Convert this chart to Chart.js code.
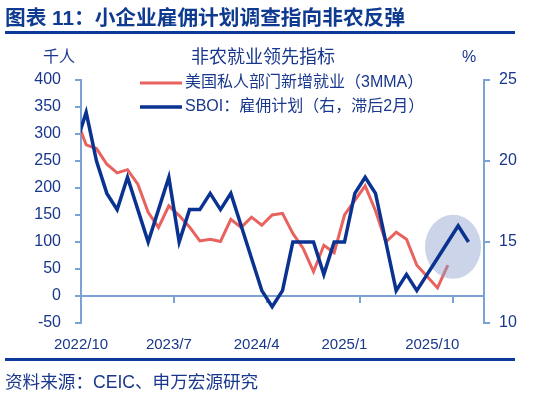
<!DOCTYPE html>
<html lang="zh-CN">
<head>
  <meta charset="UTF-8">
  <title>小企业雇佣计划调查指向非农反弹</title>
  <style>
    body {
      margin: 0;
      background: #fff;
      font-family: "Liberation Sans", "Noto Sans CJK SC", sans-serif;
      color: #19378c;
    }
    #wrap {
      position: relative;
      width: 554px;
      height: 395px;
      overflow: hidden;
    }
    #chart {
      position: absolute;
      left: 0;
      top: 0;
    }
    .txt {
      position: absolute;
      white-space: nowrap;
    }
    #title {
      left: 5px;
      top: 6px;
      font-size: 20.7px;
      line-height: 24px;
      font-weight: bold;
      color: #0e3a8f;
    }
    .rule {
      position: absolute;
      left: 5px;
      width: 510px;
      height: 3px;
      background: #0b3a9a;
    }
    #chartTitle {
      left: 263px;
      top: 46px;
      transform: translateX(-50%);
      font-size: 18px;
      line-height: 22px;
    }
    #leftUnit, #rightUnit {
      top: 47px;
      font-size: 16px;
      line-height: 20px;
      transform: translateX(-50%);
    }
    #leftUnit { left: 59px; }
    #rightUnit { left: 469px; }
    #source {
      left: 5px;
      top: 372px;
      font-size: 17.6px;
      line-height: 21px;
    }
  </style>
</head>
<body>
  <div id="wrap">
    <canvas id="chart" width="554" height="395"></canvas>
    <div class="txt" id="title">图表 11：小企业雇佣计划调查指向非农反弹</div>
    <div class="rule" style="top:31px"></div>
    <div class="txt" id="chartTitle">非农就业领先指标</div>
    <div class="txt" id="leftUnit">千人</div>
    <div class="txt" id="rightUnit">%</div>
    <div class="rule" style="top:358px"></div>
    <div class="txt" id="source">资料来源：CEIC、申万宏源研究</div>
  </div>

  <script src="https://cdn.jsdelivr.net/npm/chart.js"></script>
  <script>
    // months shown on the x axis (2022/9 sits just left of the axis and is clipped)
    const months = [
      '2022/9', '2022/10', '2022/11', '2022/12',
      '2023/1', '2023/2', '2023/3', '2023/4', '2023/5', '2023/6',
      '2023/7', '2023/8', '2023/9', '2023/10', '2023/11', '2023/12',
      '2024/1', '2024/2', '2024/3', '2024/4', '2024/5', '2024/6',
      '2024/7', '2024/8', '2024/9', '2024/10', '2024/11', '2024/12',
      '2025/1', '2025/2', '2025/3', '2025/4', '2025/5', '2025/6',
      '2025/7', '2025/8', '2025/9', '2025/10', '2025/11'
    ];

    // 美国私人部门新增就业 3MMA, 千人 (2022/9 - 2025/9)
    const privateJobs = [
      330, 280, 273, 244, 228, 234, 207, 155, 127, 167, 149, 128,
      102, 105, 101, 142, 127, 146, 131, 150, 153, 116, 88, 45,
      94, 80, 150, 177, 204, 158, 100, 118, 105, 57, 36, 15, 57
    ];

    // SBOI 雇佣计划, %, lagged 2 months (2022/9 - 2025/11)
    const sboiHiring = [
      21, 23, 20, 18, 17, 19, 17, 15, 17, 19, 15, 17, 17,
      18, 17, 18, 16, 14, 12, 11, 12, 15, 15, 15, 13, 15,
      15, 18, 19, 18, 15, 12, 13, 12, 13, 14, 15, 16, 15
    ];

    const tickLabels = ['2022/10', '2023/7', '2024/4', '2025/1', '2025/10'];

    const navy = '#19378c';
    const axisColor = '#7ba2d4';
    const family = '"Liberation Sans", "Noto Sans CJK SC", sans-serif';

    // each month is one unit wide, point sits in the middle of its month
    function toPoints(values) {
      return values.map((v, i) => ({ x: i - 0.5, y: v }));
    }
    const tickPositions = tickLabels.map(l => months.indexOf(l) - 1);

    // custom legend inside the plot, like the original
    const legendBox = {
      id: 'legendBox',
      afterDraw(chart) {
        const ctx = chart.ctx;
        chart.data.datasets.forEach((ds, i) => {
          const y = 83 + i * 24;
          ctx.save();
          ctx.strokeStyle = ds.borderColor;
          ctx.lineWidth = ds.borderWidth;
          ctx.beginPath();
          ctx.moveTo(140, y);
          ctx.lineTo(182, y);
          ctx.stroke();
          ctx.fillStyle = navy;
          ctx.font = '16px ' + family;
          ctx.textBaseline = 'middle';
          ctx.fillText(ds.label, 185, y);
          ctx.restore();
        });
      }
    };

    // shaded ellipse over the latest readings, drawn above red and below blue
    const highlight = {
      id: 'highlight',
      afterDatasetDraw(chart, args) {
        if (args.index !== 0) return;
        const ctx = chart.ctx;
        const cx = chart.scales.x.getPixelForValue(36);
        const cy = chart.scales.y1.getPixelForValue(14.7);
        ctx.save();
        ctx.fillStyle = 'rgba(140, 160, 205, 0.45)';
        ctx.beginPath();
        ctx.ellipse(cx, cy, 28, 32, 0, 0, Math.PI * 2);
        ctx.fill();
        ctx.restore();
      }
    };

    new Chart(document.getElementById('chart'), {
      type: 'line',
      data: {
        datasets: [
          {
            label: '美国私人部门新增就业（3MMA）',
            data: toPoints(privateJobs),
            xAxisID: 'x',
            yAxisID: 'y',
            borderColor: '#e8625e',
            borderWidth: 3,
            order: 1
          },
          {
            label: 'SBOI：雇佣计划（右，滞后2月）',
            data: toPoints(sboiHiring),
            xAxisID: 'x',
            yAxisID: 'y1',
            borderColor: '#0a3291',
            borderWidth: 3.5,
            order: 0
          }
        ]
      },
      options: {
        responsive: false,
        animation: false,
        clip: 0,
        layout: { padding: { top: 80, left: 0, right: 0, bottom: 0 } },
        elements: {
          point: { radius: 0 },
          line: { tension: 0, fill: false }
        },
        plugins: {
          legend: { display: false },
          tooltip: { enabled: false }
        },
        scales: {
          x: {
            type: 'linear',
            axis: 'x',
            position: { y: 0 },
            min: 0,
            max: 39,
            afterBuildTicks: s => { s.ticks = tickPositions.map(v => ({ value: v })); },
            ticks: { display: false },
            grid: { drawOnChartArea: false, drawTicks: true, tickLength: 6, color: axisColor, lineWidth: 2 },
            border: { display: true, color: axisColor, width: 2 }
          },
          xl: {
            type: 'linear',
            axis: 'x',
            position: 'bottom',
            min: 0,
            max: 41.3,
            afterBuildTicks: s => { s.ticks = tickPositions.map(v => ({ value: v })); },
            afterFit: s => { s.height = 72; },
            ticks: {
              autoSkip: false,
              maxRotation: 0,
              padding: 5,
              color: navy,
              font: { family: family, size: 15 },
              callback: (v, i) => tickLabels[i]
            },
            grid: { display: false },
            border: { display: false }
          },
          y: {
            position: 'left',
            min: -50,
            max: 400,
            afterFit: s => { s.width = 81; },
            ticks: { stepSize: 50, padding: 14, color: navy, font: { family: family, size: 16 } },
            grid: { drawOnChartArea: false, tickLength: 6, color: axisColor, lineWidth: 2 },
            border: { color: axisColor, width: 2 }
          },
          y1: {
            position: 'right',
            min: 10,
            max: 25,
            afterFit: s => { s.width = 70; },
            ticks: { stepSize: 5, padding: 9, color: navy, font: { family: family, size: 16 } },
            grid: { drawOnChartArea: false, tickLength: 6, color: axisColor, lineWidth: 2 },
            border: { color: axisColor, width: 2 }
          }
        }
      },
      plugins: [legendBox, highlight]
    });
  </script>
</body>
</html>
